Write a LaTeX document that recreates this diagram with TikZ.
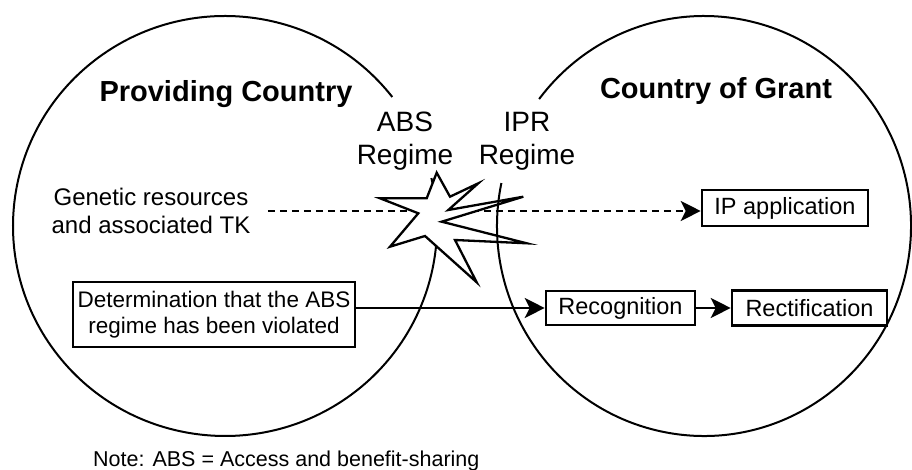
\documentclass[tikz,border=0pt]{standalone}
\usepackage{fontspec}
\setmainfont{Liberation Sans}
\usetikzlibrary{arrows.meta}
\begin{document}
\begin{tikzpicture}[x=1pt,y=1pt,
  region/.style={line width=2pt},
  boxnode/.style={draw, line width=2.6pt, font=\fontsize{23.5}{26}\selectfont, inner sep=0pt, align=center},
  title/.style={font=\bfseries\fontsize{29}{34}\selectfont, anchor=base},
  regime/.style={font=\fontsize{28}{33}\selectfont, align=center, inner sep=0pt},
  link/.style={line width=2.3pt, -{Stealth[length=20pt,width=20pt,inset=5pt]}},
  clash/.style={line width=2.3pt, fill=white, line join=miter}
]
\useasboundingbox (0,0) rectangle (912,470);

% left region (gap behind the ABS label)
\draw[region] (225,244) ++(37.9:212 and 210)
  arc[start angle=37.9, end angle=373.2, x radius=212, y radius=210];

% text nodes
\node[font=\fontsize{24}{28}\selectfont, align=center] (gen) at (151,259) {Genetic resources\\and associated TK};
\node[boxnode, minimum width=166pt, minimum height=36pt] (ip) at (785,262) {IP application};

% dashed flow
\draw[link, dash pattern=on 7pt off 5pt] ([xshift=14pt]gen.east) -- (gen.east -| ip.west);

% clash star
\draw[clash] (436.7,297.3) -- (450,273.3) -- (478.3,286.7) -- (448.3,260)
  -- (523.3,273.3) -- (441.7,248.3) -- (526.7,226.7) -- (455,230)
  -- (476.7,187.7) -- (425,234) -- (390,223.3) -- (418.3,256.7)
  -- (380,271.7) -- (426.7,271.7) -- cycle;

% right region (gap behind the IPR label)
\draw[region] (704,244) ++(168.2:207 and 210)
  arc[start angle=168.2, end angle=502.8, x radius=207, y radius=210];

\node[title] (prov) at (226,368) {Providing Country};
\node[title] (grant) at (716,371) {Country of Grant};
\node[regime] (abs) at (405,328.5) {ABS\\Regime};
\node[regime] (ipr) at (527,328.5) {IPR\\Regime};

\node[boxnode, font=\fontsize{22.5}{26}\selectfont, minimum width=282pt, minimum height=65pt] (det) at (214,155.5) {Determination that the ABS\\regime has been violated};
\node[boxnode, minimum width=149pt, minimum height=34pt] (rec) at (620.5,162) {Recognition};
\node[boxnode, minimum width=155pt, minimum height=35pt] (rect) at (809.5,162) {Rectification};

\draw[link] (det.east |- rec.west) -- (rec.west);
\draw[link] (rec.east) -- (rect.west);

\node[font=\fontsize{21.5}{26}\selectfont, anchor=base west, inner sep=0pt] (note) at (93,3) {Note: ABS = Access and benefit-sharing};
\end{tikzpicture}
\end{document}
